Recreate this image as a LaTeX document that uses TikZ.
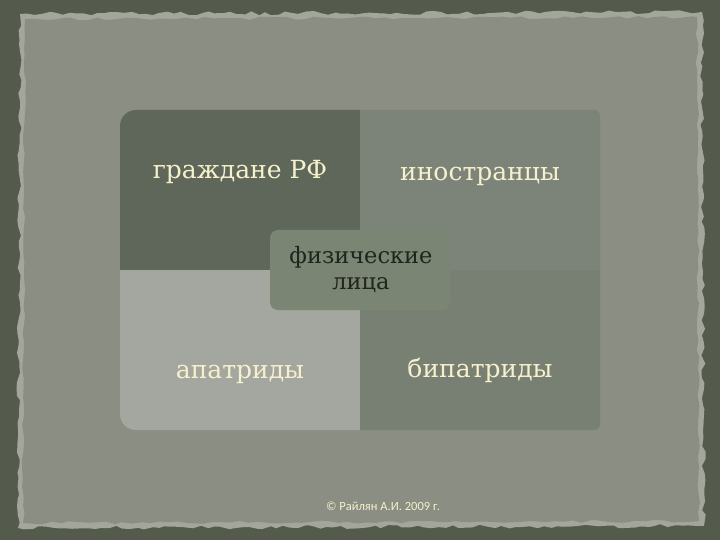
\documentclass[tikz,border=0pt]{standalone}
\usepackage{fontspec}
\setmainfont{DejaVu Serif}
\newfontfamily\footfont{Carlito}
\usetikzlibrary{decorations.pathmorphing}
\definecolor{frameC}{HTML}{545B4D}
\definecolor{paperC}{HTML}{8A8E83}
\definecolor{rimC}{HTML}{A3A69A}
\definecolor{tlC}{HTML}{5E675A}
\definecolor{trC}{HTML}{7C8378}
\definecolor{blC}{HTML}{A4A79F}
\definecolor{brC}{HTML}{788073}
\definecolor{midC}{HTML}{7B8573}
\definecolor{creamC}{HTML}{F6F1CC}
\definecolor{darkT}{HTML}{1F241C}
\tikzset{
  quadtext/.style={text=creamC, font=\fontsize{25}{28}\selectfont},
  midbox/.style={fill=midC, rounded corners=8pt, draw=none},
}
\begin{document}
\begin{tikzpicture}[x=1pt,y=-1pt]
\useasboundingbox (0,0) rectangle (720,540);
\fill[frameC] (0,0) rectangle (720,540);
\pgfmathsetseed{7}
\fill[rimC, decorate, decoration={random steps, segment length=7pt, amplitude=2pt}]
  (20,14) -- (702,12) -- (704,526) -- (18,528) -- cycle;
\fill[paperC, decorate, decoration={random steps, segment length=9pt, amplitude=1.5pt}]
  (25,19) -- (697,17) -- (699,521) -- (23,523) -- cycle;
% quadrants
\fill[tlC] (120,270) -- (120,126) arc[start angle=180, end angle=270, radius=16] -- (360,110) -- (360,270) -- cycle;
\fill[trC] (360,110) -- (594,110) arc[start angle=-90, end angle=0, radius=6] -- (600,270) -- (360,270) -- cycle;
\fill[blC] (120,270) -- (360,270) -- (360,430) -- (136,430) arc[start angle=90, end angle=180, radius=16] -- cycle;
\fill[brC] (360,270) -- (600,270) -- (600,424) arc[start angle=0, end angle=90, radius=6] -- (360,430) -- cycle;
\node[quadtext] (q1) at (240,172) {граждане РФ};
\node[quadtext] (q2) at (480,176) {иностранцы};
\node[quadtext] (q3) at (240,374) {апатриды};
\node[quadtext] (q4) at (480,370) {бипатриды};
\fill[midbox] (270,230) rectangle (450,310);
\node[text=darkT, align=center, font=\fontsize{22.5}{26}\selectfont] (mid) at (361,270) {физические\\лица};
\node[text=creamC, font=\footfont\fontsize{12.5}{14}\selectfont] (foot) at (383,506) {© Райлян А.И. 2009 г.};
\end{tikzpicture}
\end{document}
